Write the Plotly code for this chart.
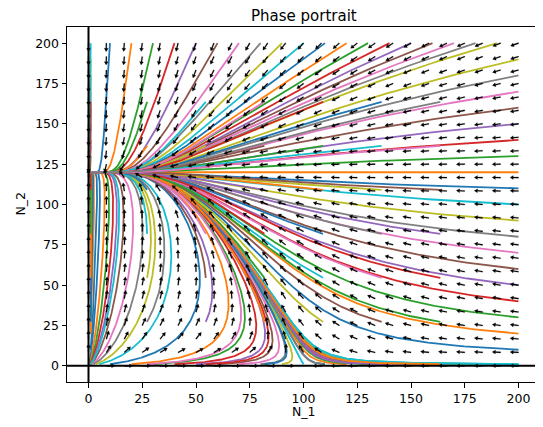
import numpy as np
import plotly.graph_objects as go

# ---- model parameters (Lotka-Volterra competition) ----
r1, r2 = 1.0, 1.5
K1, K2 = 100.0, 120.0
a12, a21 = 0.9, 0.0

# ---- initial conditions ----
edge_lo = 1.0      # value used in place of 0 on the edges
left_y0 = [10, 20, 30, 40, 50, 60, 70, 80, 90, 100, 110, 120, 130, 140, 150, 160, 170, 180, 190]
top_x0 = [0, 10, 20, 30, 40, 50, 60, 70, 80, 90, 100, 110, 120, 130, 140, 150, 160, 170, 180, 190]
fan_x0 = [0.3, 0.45, 0.6, 0.75, 0.9, 1.2, 1.7, 2.3, 3.3, 5.0]
bottom_x0 = [10, 20, 30, 40, 50, 60, 70, 80, 90, 100, 110, 120, 130, 140, 150, 160, 170, 180, 190, 200]
right_y0 = [0, 10, 20, 30, 40, 50, 60, 70, 80, 90, 100, 110, 120, 130, 140, 150, 160, 170, 180, 190]
grid_vals = [0, 27.27, 54.55, 81.82, 109.09, 136.36, 163.64]

colors = ['#1f77b4', '#ff7f0e', '#2ca02c', '#d62728', '#9467bd',
          '#8c564b', '#e377c2', '#7f7f7f', '#bcbd22', '#17becf']

tick_vals = [0, 25, 50, 75, 100, 125, 150, 175, 200]


def rhs(s):
    n1, n2 = s[:, 0], s[:, 1]
    d1 = r1 * n1 * (1 - (n1 + a12 * n2) / K1)
    d2 = r2 * n2 * (1 - (n2 + a21 * n1) / K2)
    return np.stack([d1, d2], axis=1)


starts, cidx = [], []
for y in left_y0:
    starts.append((edge_lo, y)); cidx.append((y // 10 + 9) % 10)
for x in top_x0:
    starts.append((max(x, edge_lo), 200)); cidx.append((x // 10 + 9) % 10)
for n, x in enumerate(fan_x0):
    starts.append((x, edge_lo)); cidx.append(n % 10)
for x in bottom_x0:
    starts.append((x, edge_lo)); cidx.append((x // 10 + 9) % 10)
for y in right_y0:
    starts.append((200, max(y, edge_lo))); cidx.append((y // 10 + 9) % 10)
for i, gx in enumerate(grid_vals):
    for j, gy in enumerate(grid_vals):
        starts.append((max(gx, edge_lo), max(gy, edge_lo))); cidx.append((9 + 7 * i + j) % 10)

S = np.array(starts, dtype=float)
dt, T = 0.01, 45.0
nsteps = int(T / dt)
traj = np.empty((nsteps + 1, len(S), 2))
traj[0] = S
s = S.copy()
for k in range(nsteps):
    k1 = rhs(s)
    k2 = rhs(s + 0.5 * dt * k1)
    k3 = rhs(s + 0.5 * dt * k2)
    k4 = rhs(s + dt * k3)
    s = s + dt / 6 * (k1 + 2 * k2 + 2 * k3 + k4)
    traj[k + 1] = s

# page geometry (the page body has an 8px margin)
OFF = 8
PW, PH = 543, 427
W, H = PW - OFF, PH - OFF
plot_l, plot_r, plot_t, plot_b = 66.5, 540.5, 27, 382
ml = plot_l - OFF
mr = W - (plot_r - OFF)
mt = plot_t - OFF
mb = H - (plot_b - OFF)
xr = (-10, 210)
yr = (-10, 210)
pxx = (plot_r - plot_l) / (xr[1] - xr[0])
pxy = (plot_b - plot_t) / (yr[1] - yr[0])

fig = go.Figure()
for i in range(len(S)):
    p = traj[:, i, :]
    keep = [0]
    lx, ly = p[0]
    for k in range(1, len(p)):
        if np.hypot((p[k, 0] - lx) * pxx, (p[k, 1] - ly) * pxy) > 1.0:
            keep.append(k)
            lx, ly = p[k]
    if keep[-1] != len(p) - 1:
        keep.append(len(p) - 1)
    q = p[keep]
    fig.add_trace(go.Scatter(x=np.round(q[:, 0], 2), y=np.round(q[:, 1], 2), mode='lines',
                             line=dict(color=colors[int(cidx[i])], width=1.8),
                             hoverinfo='skip', showlegend=False))

# axis lines
fig.add_trace(go.Scatter(x=[-10, 210], y=[0, 0], mode='lines', line=dict(color='black', width=2),
                         hoverinfo='skip', showlegend=False))
fig.add_trace(go.Scatter(x=[0, 0], y=[-10, 210], mode='lines', line=dict(color='black', width=2),
                         hoverinfo='skip', showlegend=False))

# quiver (normalized direction field)
qv = np.linspace(0, 200, 25)
QX, QY = np.meshgrid(qv, qv)
pts = np.stack([QX.ravel(), QY.ravel()], axis=1)
D = rhs(pts)
L, hl, hw, sw = 8.5, 3.3, 2.0, 0.55
ax_, ay_ = [], []
for (x0, y0), (u, v) in zip(pts, D):
    nrm = np.hypot(u, v)
    if nrm < 1e-9:
        continue
    dx, dy = u / nrm, v / nrm
    nx, ny = -dy, dx
    shape = [(nx * sw, ny * sw), (dx * (L - hl) + nx * sw, dy * (L - hl) + ny * sw),
             (dx * (L - hl) + nx * hw, dy * (L - hl) + ny * hw), (dx * L, dy * L),
             (dx * (L - hl) - nx * hw, dy * (L - hl) - ny * hw),
             (dx * (L - hl) - nx * sw, dy * (L - hl) - ny * sw), (-nx * sw, -ny * sw),
             (nx * sw, ny * sw)]
    for (px_, py_) in shape:
        ax_.append(round(x0 + px_ / pxx, 3))
        ay_.append(round(y0 + py_ / pxy, 3))
    ax_.append(None)
    ay_.append(None)
fig.add_trace(go.Scatter(x=ax_, y=ay_, mode='lines', fill='toself', fillcolor='black',
                         line=dict(color='black', width=0.2), hoverinfo='skip', showlegend=False))

font = dict(family='DejaVu Sans', size=12.5, color='black')


def to_paper_x(page_x):
    return (page_x - plot_l) / (plot_r - plot_l)


def to_paper_y(page_y):
    return (plot_b - page_y) / (plot_b - plot_t)


fig.update_layout(
    width=W, height=H, margin=dict(l=ml, r=mr, t=mt, b=mb, autoexpand=False),
    paper_bgcolor='white', plot_bgcolor='white', font=font,
    xaxis=dict(range=list(xr), tickvals=tick_vals, showgrid=False, zeroline=False, showline=True,
               linecolor='black', linewidth=1, mirror=True, ticks='outside', ticklen=4.5, tickcolor='black',
               tickfont=font, automargin=False),
    yaxis=dict(range=list(yr), tickvals=tick_vals, showgrid=False, zeroline=False, showline=True,
               linecolor='black', linewidth=1, mirror=True, ticks='outside', ticklen=4.5, tickcolor='black',
               tickfont=font, automargin=False),
    annotations=[
        dict(text='Phase portrait', x=to_paper_x((plot_l + plot_r) / 2), y=to_paper_y(15.5),
             xref='paper', yref='paper', showarrow=False, xanchor='center', yanchor='middle',
             font=dict(family='DejaVu Sans', size=15, color='black')),
        dict(text='N_1', x=to_paper_x((plot_l + plot_r) / 2), y=to_paper_y(412), xref='paper', yref='paper',
             showarrow=False, font=font, xanchor='center', yanchor='middle'),
        dict(text='N_2', x=to_paper_x(19), y=to_paper_y(204), xref='paper', yref='paper', textangle=-90,
             showarrow=False, font=font, xanchor='center', yanchor='middle'),
    ],
)

fig.write_html('out.html')
